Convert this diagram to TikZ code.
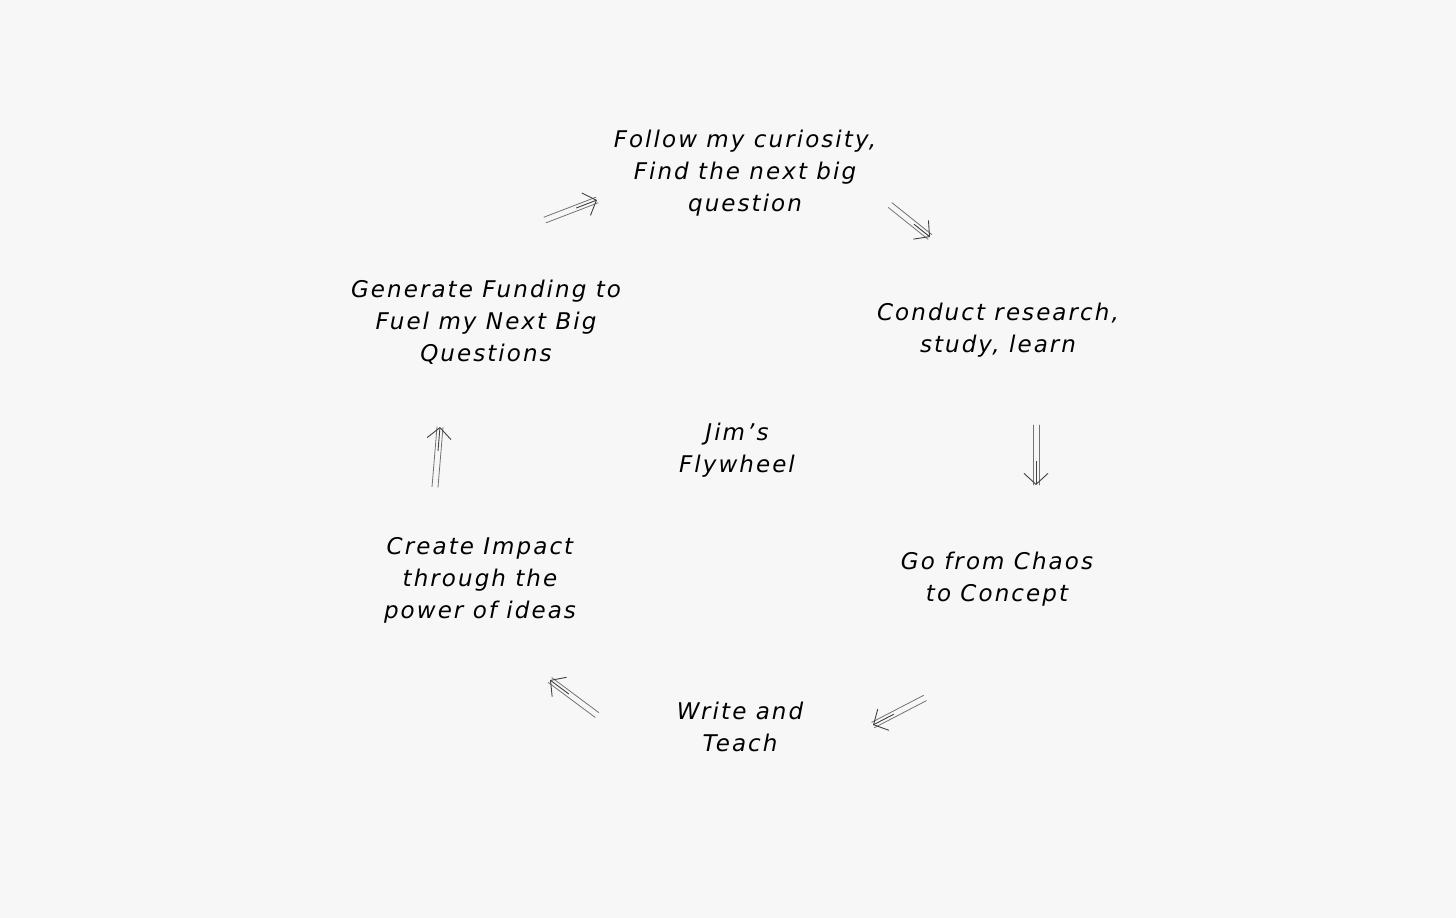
\documentclass[tikz,border=0pt]{standalone}
\usepackage{fontspec}
\setmainfont{DejaVu Sans}[LetterSpace=9]
\usetikzlibrary{arrows.meta,calc}
\definecolor{bg}{HTML}{F7F7F7}
\begin{document}
\begin{tikzpicture}[x=1pt,y=-1pt,
  lbl/.style={align=center,font=\fontsize{23}{32}\selectfont\itshape,text=black},
  shaft/.style={draw=black!55,line width=0.8pt,line cap=round},
  head/.style={draw=black!75,line width=0.9pt,-{Straight Barb[length=11pt,width=24pt]}}]
\fill[bg] (0,0) rectangle (1456,918);
\useasboundingbox (0,0) rectangle (1456,918);
\node[lbl] (top) at (745,173) {Follow my curiosity,\\Find the next big\\question};
\node[lbl] (res) at (998,330) {Conduct research,\\study, learn};
\node[lbl] (cha) at (997,579) {Go from Chaos\\to Concept};
\node[lbl] (wri) at (740,727) {Write and\\Teach};
\node[lbl] (imp) at (480,580) {Create Impact\\through the\\power of ideas};
\node[lbl] (fun) at (486,322) {Generate Funding to\\Fuel my Next Big\\Questions};
\node[lbl] (ctr) at (737,450) {Jim's\\Flywheel};
\foreach \sx/\sy/\ex/\ey/\n in {545/220/597/200/a, 890/205/930/237/b, 1036/425/1036/485/c, 925/698/873/725/d, 597/715/550/680/e, 435/487/440/427/f}{
  \coordinate (s\n) at (\sx,\sy);
  \coordinate (e\n) at (\ex,\ey);
  \draw[shaft] ($(s\n)!3pt!90:(e\n)$) -- ($(e\n)!3pt!-90:(s\n)$);
  \draw[shaft] ($(s\n)!3pt!-90:(e\n)$) -- ($(e\n)!3pt!90:(s\n)$);
  \draw[head] ($(s\n)!0.6!(e\n)$) -- (e\n);
}
\end{tikzpicture}
\end{document}
